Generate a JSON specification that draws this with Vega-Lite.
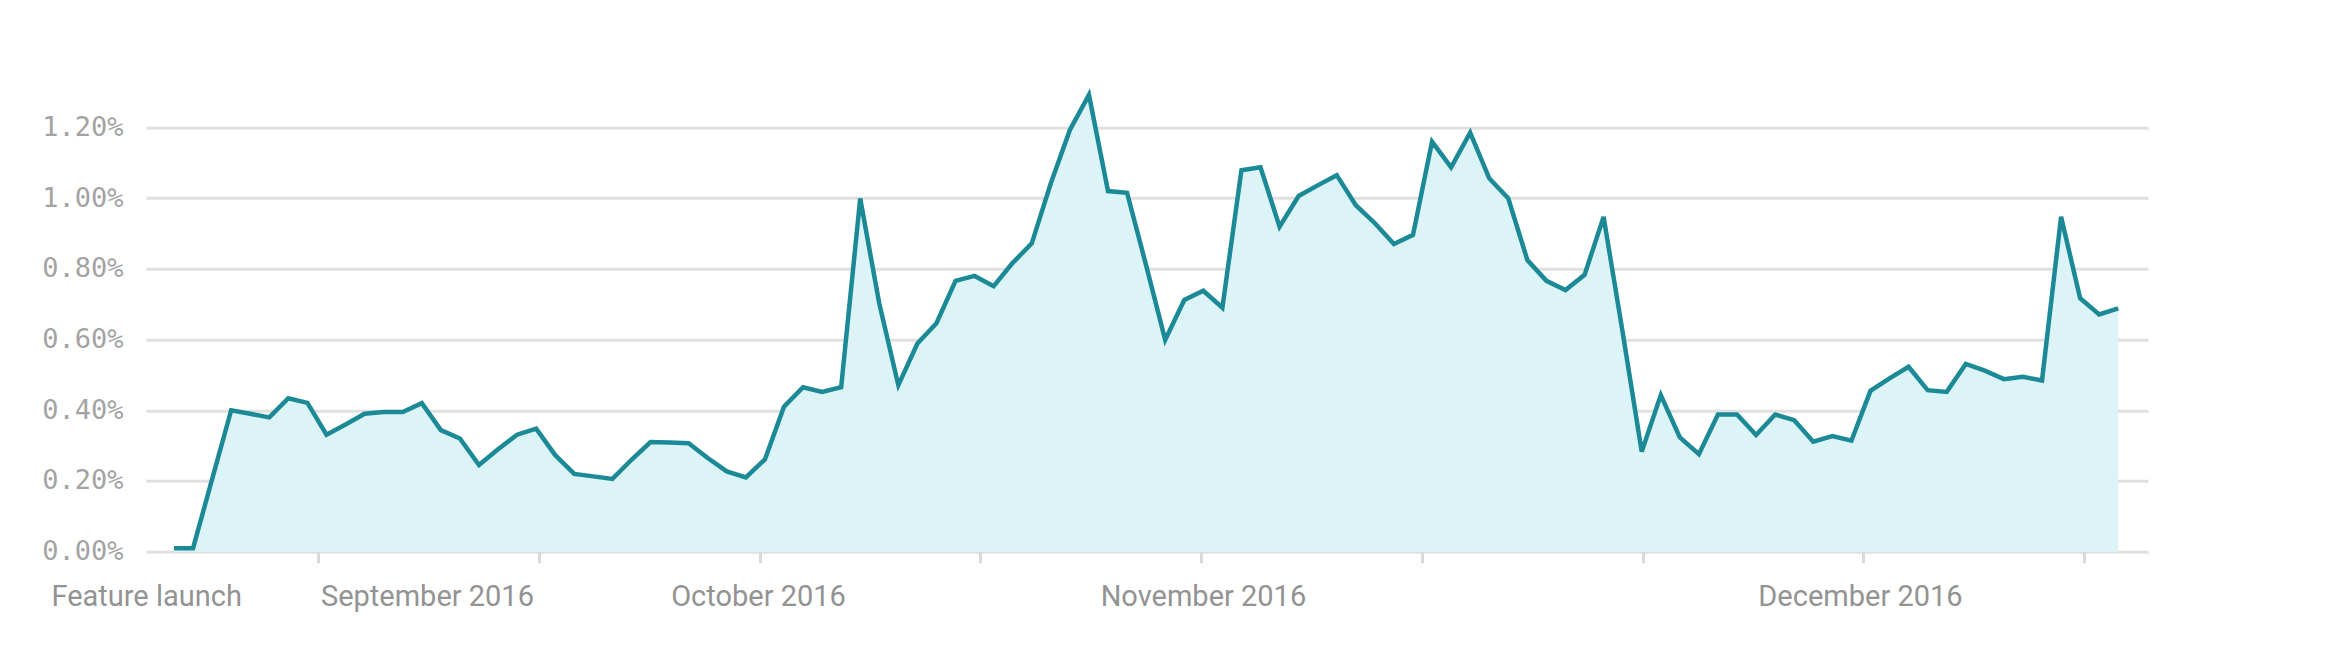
{
  "$schema": "https://vega.github.io/schema/vega-lite/v6.json",
  "autosize": "none",
  "width": 2002,
  "height": 495,
  "padding": {"left": 146, "top": 56.7, "right": 184, "bottom": 96.3},
  "background": "white",
  "config": {"view": {"stroke": null}},
  "data": {"values": [
    {"i":0,"v":0.01},{"i":1,"v":0.01},{"i":2,"v":0.205},{"i":3,"v":0.40},{"i":4,"v":0.39},
    {"i":5,"v":0.38},{"i":6,"v":0.434},{"i":7,"v":0.421},{"i":8,"v":0.331},{"i":9,"v":0.36},
    {"i":10,"v":0.39},{"i":11,"v":0.395},{"i":12,"v":0.395},{"i":13,"v":0.42},{"i":14,"v":0.344},
    {"i":15,"v":0.32},{"i":16,"v":0.245},{"i":17,"v":0.29},{"i":18,"v":0.331},{"i":19,"v":0.348},
    {"i":20,"v":0.273},{"i":21,"v":0.22},{"i":22,"v":0.213},{"i":23,"v":0.206},{"i":24,"v":0.26},
    {"i":25,"v":0.31},{"i":26,"v":0.309},{"i":27,"v":0.307},{"i":28,"v":0.265},{"i":29,"v":0.227},
    {"i":30,"v":0.21},{"i":31,"v":0.261},{"i":32,"v":0.41},{"i":33,"v":0.465},{"i":34,"v":0.452},
    {"i":35,"v":0.465},{"i":36,"v":0.999},{"i":37,"v":0.702},{"i":38,"v":0.471},{"i":39,"v":0.589},
    {"i":40,"v":0.646},{"i":41,"v":0.766},{"i":42,"v":0.78},{"i":43,"v":0.751},{"i":44,"v":0.817},
    {"i":45,"v":0.872},{"i":46,"v":1.042},{"i":47,"v":1.193},{"i":48,"v":1.292},{"i":49,"v":1.02},
    {"i":50,"v":1.015},{"i":51,"v":0.81},{"i":52,"v":0.599},{"i":53,"v":0.712},{"i":54,"v":0.738},
    {"i":55,"v":0.69},{"i":56,"v":1.079},{"i":57,"v":1.087},{"i":58,"v":0.919},{"i":59,"v":1.006},
    {"i":60,"v":1.036},{"i":61,"v":1.065},{"i":62,"v":0.98},{"i":63,"v":0.929},{"i":64,"v":0.87},
    {"i":65,"v":0.896},{"i":66,"v":1.16},{"i":67,"v":1.087},{"i":68,"v":1.185},{"i":69,"v":1.056},
    {"i":70,"v":0.999},{"i":71,"v":0.825},{"i":72,"v":0.766},{"i":73,"v":0.74},{"i":74,"v":0.783},
    {"i":75,"v":0.947},{"i":76,"v":0.62},{"i":77,"v":0.283},{"i":78,"v":0.443},{"i":79,"v":0.323},
    {"i":80,"v":0.276},{"i":81,"v":0.388},{"i":82,"v":0.388},{"i":83,"v":0.33},{"i":84,"v":0.388},
    {"i":85,"v":0.372},{"i":86,"v":0.311},{"i":87,"v":0.327},{"i":88,"v":0.314},{"i":89,"v":0.455},
    {"i":90,"v":0.49},{"i":91,"v":0.523},{"i":92,"v":0.457},{"i":93,"v":0.452},{"i":94,"v":0.531},
    {"i":95,"v":0.512},{"i":96,"v":0.488},{"i":97,"v":0.495},{"i":98,"v":0.484},{"i":99,"v":0.947},
    {"i":100,"v":0.717},{"i":101,"v":0.671},{"i":102,"v":0.688}
  ]},
  "resolve": {"axis": {"x": "independent"}},
  "layer": [
    {
      "mark": {"type": "area", "color": "#dcf4f8", "opacity": 1},
      "encoding": {
        "x": {
          "field": "i", "type": "quantitative",
          "scale": {"domain": [-1.469, 103.56], "nice": false, "zero": false},
          "axis": {
            "orient": "bottom",
            "title": null,
            "values": [7.57, 19.15, 30.73, 42.31, 53.89, 65.47, 77.05, 88.63, 100.21],
            "labels": false, "grid": false, "domain": false,
            "ticks": true, "tickColor": "#d9d9d9", "tickWidth": 3, "tickSize": 11
          }
        },
        "y": {
          "field": "v", "type": "quantitative",
          "scale": {"domain": [0, 1.4], "nice": false},
          "axis": {
            "title": null,
            "values": [0, 0.2, 0.4, 0.6, 0.8, 1.0, 1.2],
            "labelExpr": "format(datum.value, '.2f') + '%'",
            "domain": false, "ticks": false,
            "grid": true, "gridColor": "#e0e0e0", "gridWidth": 3,
            "labelFont": "DejaVu Sans Mono", "labelFontSize": 27,
            "labelColor": "#a3a3a3", "labelPadding": 23
          }
        }
      }
    },
    {
      "mark": {"type": "line", "color": "#1b8a96", "strokeWidth": 4.5, "strokeJoin": "miter"},
      "encoding": {
        "x": {
          "field": "i", "type": "quantitative",
          "scale": {"domain": [-1.469, 103.56], "nice": false, "zero": false},
          "axis": {
            "orient": "bottom",
            "title": null,
            "values": [-1.46, 13.27, 30.64, 53.98, 88.45],
            "labelExpr": "datum.value < 0 ? 'Feature launch' : datum.value < 20 ? 'September 2016' : datum.value < 40 ? 'October 2016' : datum.value < 70 ? 'November 2016' : 'December 2016'",
            "grid": false, "domain": false, "ticks": false, "tickSize": 0,
            "labelFlush": false, "labelOverlap": false, "labelBound": false, "labelLimit": 0,
            "labelFont": "Roboto", "labelFontSize": 29, "labelColor": "#939393",
            "labelBaseline": "alphabetic", "labelPadding": 54
          }
        },
        "y": {"field": "v", "type": "quantitative"}
      }
    }
  ]
}
